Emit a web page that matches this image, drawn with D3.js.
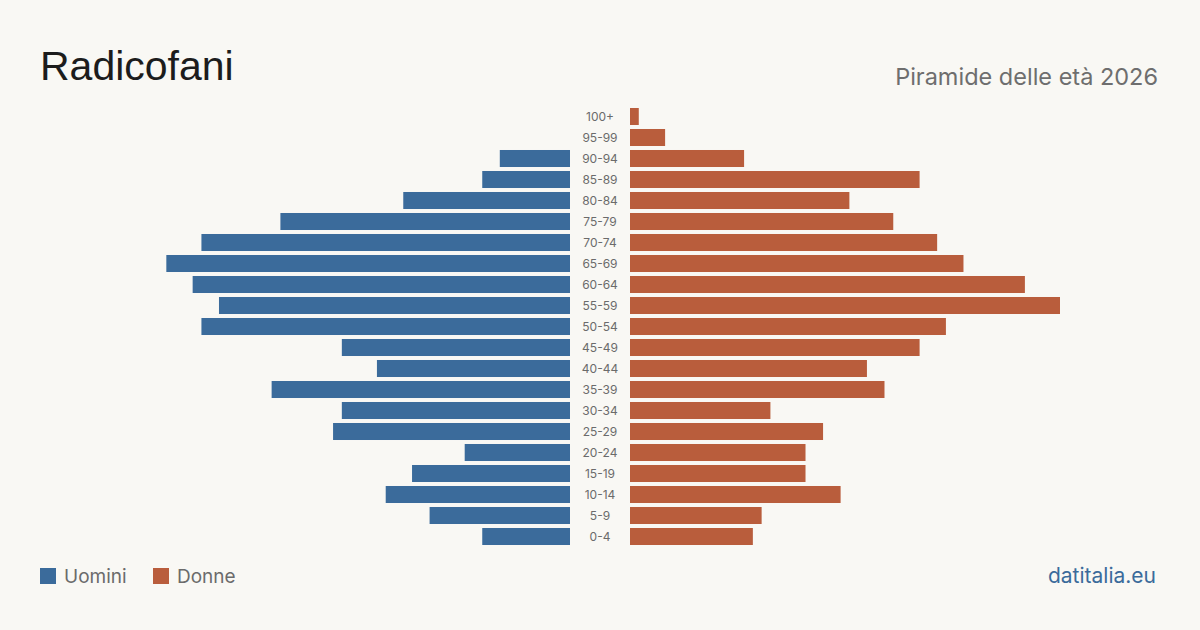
<!DOCTYPE html>
<html lang="it">
<head>
    <meta charset="UTF-8">
    <title>Radicofani - Piramide delle età</title>
    <script src="https://d3js.org/d3.v7.min.js"></script>
    <style>
        body { margin: 0; background: #f9f8f4; }
        svg { display: block; font-family: Inter, "Noto Sans", sans-serif; }
    </style>
</head>
<body>
    <svg></svg>
    <script>
        // age classes, top (oldest) to bottom
        const ageGroups = ["100+", "95-99", "90-94", "85-89", "80-84", "75-79", "70-74", "65-69",
            "60-64", "55-59", "50-54", "45-49", "40-44", "35-39", "30-34", "25-29",
            "20-24", "15-19", "10-14", "5-9", "0-4"];
        const men   = [0, 0, 8, 10, 19, 33, 42, 46, 43, 40, 42, 26, 22, 34, 26, 27, 12, 18, 21, 16, 10];
        const women = [1, 4, 13, 33, 25, 30, 35, 38, 45, 49, 36, 33, 27, 29, 16, 22, 20, 20, 24, 15, 14];
        const legendLabels = ["Uomini", "Donne"];

        const width = 1200;
        const height = 630;
        const blue = "#3b6b9b";
        const orange = "#b95d3c";

        const svg = d3.select("svg")
            .attr("width", width)
            .attr("height", height);

        svg.append("rect")
            .attr("width", width)
            .attr("height", height)
            .attr("fill", "#f9f8f4");

        const maxVal = d3.max(men.concat(women));

        const y = d3.scaleBand()
            .domain(ageGroups)
            .range([106, 547])
            .paddingInner(0.19)
            .paddingOuter(0.095);

        const xLeft = d3.scaleLinear().domain([0, maxVal]).range([570, 140]);
        const xRight = d3.scaleLinear().domain([0, maxVal]).range([630, 1060]);

        // men bars
        svg.selectAll(".men")
            .data(ageGroups)
            .join("rect")
            .attr("class", "men")
            .attr("x", (d, i) => xLeft(men[i]))
            .attr("y", d => y(d))
            .attr("width", (d, i) => xLeft(0) - xLeft(men[i]))
            .attr("height", y.bandwidth())
            .attr("fill", blue);

        // women bars
        svg.selectAll(".women")
            .data(ageGroups)
            .join("rect")
            .attr("class", "women")
            .attr("x", xRight(0))
            .attr("y", d => y(d))
            .attr("width", (d, i) => xRight(women[i]) - xRight(0))
            .attr("height", y.bandwidth())
            .attr("fill", orange);

        // age labels in the middle
        svg.selectAll(".age")
            .data(ageGroups)
            .join("text")
            .attr("class", "age")
            .attr("x", 600)
            .attr("y", d => y(d) + y.bandwidth() / 2)
            .attr("dy", "0.35em")
            .attr("text-anchor", "middle")
            .attr("font-size", 12)
            .attr("fill", "#6b6b6b")
            .text(d => d);

        // title + subtitle
        svg.append("text")
            .attr("x", 40)
            .attr("y", 80)
            .attr("font-family", "'Liberation Sans', Arial, sans-serif")
            .attr("font-size", 41)
            .attr("fill", "#1c1c1c")
            .text("Radicofani");

        svg.append("text")
            .attr("x", 1158)
            .attr("y", 85)
            .attr("text-anchor", "end")
            .attr("font-size", 23.5)
            .attr("fill", "#6e6e6e")
            .text("Piramide delle età 2026");

        // legend
        const legend = svg.selectAll(".legend")
            .data(legendLabels)
            .join("g")
            .attr("class", "legend")
            .attr("transform", (d, i) => `translate(${i === 0 ? 40 : 153},568)`);

        legend.append("rect")
            .attr("width", 16)
            .attr("height", 16)
            .attr("fill", (d, i) => i === 0 ? blue : orange);

        legend.append("text")
            .attr("x", 24)
            .attr("y", 15)
            .attr("font-size", 19)
            .attr("fill", "#6b6b6b")
            .text(d => d);

        // source
        svg.append("text")
            .attr("x", 1156)
            .attr("y", 583)
            .attr("text-anchor", "end")
            .attr("font-size", 21)
            .attr("fill", blue)
            .text("datitalia.eu");
    </script>
</body>
</html>
